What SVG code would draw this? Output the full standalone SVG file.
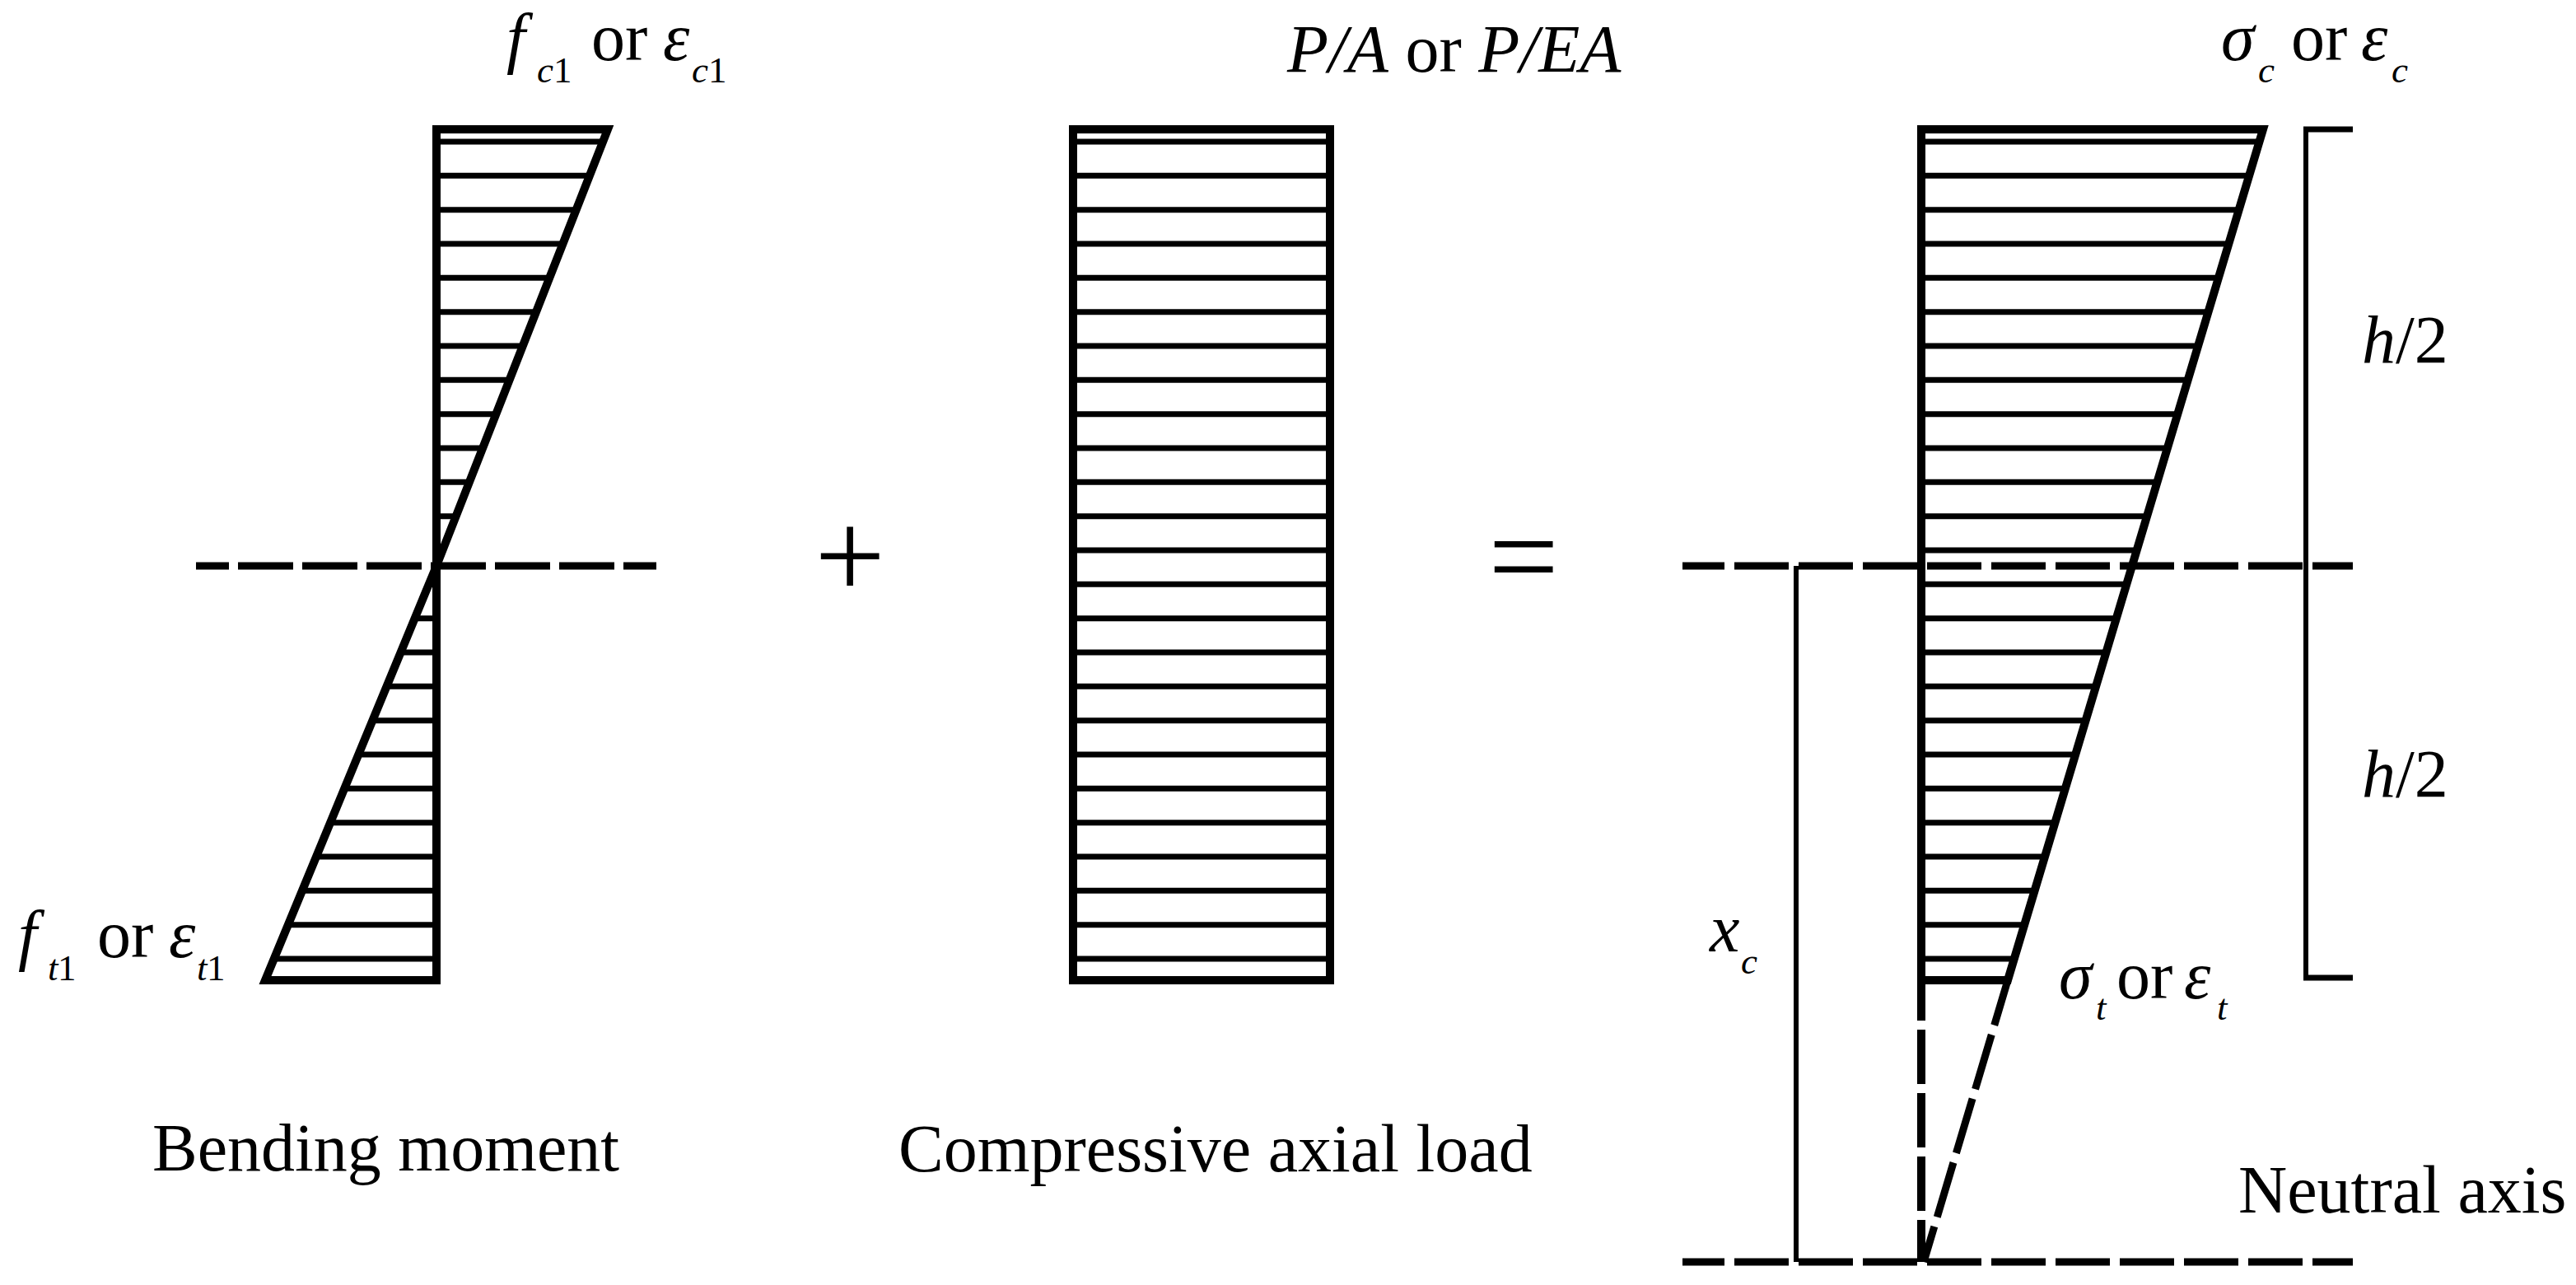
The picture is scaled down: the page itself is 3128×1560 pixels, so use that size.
<svg xmlns="http://www.w3.org/2000/svg" width="3128" height="1560" viewBox="0 0 3128 1560">
<style>
.t{font-family:"Liberation Serif","Times New Roman",serif;font-size:82px;fill:#000}
.i{font-style:italic}
.s{font-size:45px}
.big{font-size:152px}
.o{stroke:#000;stroke-width:10;fill:none;stroke-linejoin:miter}
.h{stroke:#000;stroke-width:7;fill:none}
.dl{stroke:#000;stroke-width:9;fill:none}
.dim{stroke:#000;stroke-width:6;fill:none}
.tick{stroke:#000;stroke-width:7;fill:none}
</style>
<rect width="3128" height="1560" fill="#fff"/>

<g id="bending-diagram">
<path class="h" d="M530 172H732.1M530 213.3H715.9M530 254.7H698.5M530 296H683.5M530 337.3H667.2M530 378.7H651M530 420H634.8M530 461.3H618.6M530 502.7H602.3M530 544H586.1M530 585.3H569.9M530 626.7H553.7M530 668H537.5M520.8 709.3H530M503.7 750.7H530M486.6 792H530M469.5 833.3H530M452.4 874.7H530M435.3 916H530M418.2 957.3H530M401.1 998.7H530M384 1040H530M366.9 1081.3H530M349.8 1122.7H530M332.8 1164H530"/>
<polygon class="o" points="530,157 738,157 530,687 322,1190 530,1190"/>
</g>

<g id="axial-diagram">
<path class="h" d="M1303 172H1615M1303 213.3H1615M1303 254.7H1615M1303 296H1615M1303 337.3H1615M1303 378.7H1615M1303 420H1615M1303 461.3H1615M1303 502.7H1615M1303 544H1615M1303 585.3H1615M1303 626.7H1615M1303 668H1615M1303 709.3H1615M1303 750.7H1615M1303 792H1615M1303 833.3H1615M1303 874.7H1615M1303 916H1615M1303 957.3H1615M1303 998.7H1615M1303 1040H1615M1303 1081.3H1615M1303 1122.7H1615M1303 1164H1615"/>
<rect class="o" x="1303" y="157" width="312" height="1033"/>
</g>

<g id="combined-diagram">
<path class="h" d="M2333 172H2744.1M2333 213.3H2731.7M2333 254.7H2719.3M2333 296H2706.9M2333 337.3H2694.5M2333 378.7H2682.1M2333 420H2669.7M2333 461.3H2657.3M2333 502.7H2644.9M2333 544H2632.5M2333 585.3H2620.1M2333 626.7H2607.7M2333 668H2595.3M2333 709.3H2582.9M2333 750.7H2570.5M2333 792H2558.1M2333 833.3H2545.7M2333 874.7H2533.2M2333 916H2520.8M2333 957.3H2508.4M2333 998.7H2496M2333 1040H2483.6M2333 1081.3H2471.2M2333 1122.7H2458.8M2333 1164H2446.4"/>
<polygon class="o" points="2333,157 2748,157 2438,1190 2333,1190"/>
<line class="o" x1="2333" y1="1190" x2="2333" y2="1532" stroke-width="11" stroke-dasharray="66 11" stroke-dashoffset="17"/>
<line class="dl" x1="2438" y1="1190" x2="2336" y2="1532" stroke-width="8" stroke-dasharray="69 12" stroke-dashoffset="12"/>
</g>

<g id="connectors">
<line class="dl" x1="238" y1="687" x2="797" y2="687" stroke-dasharray="67 11" stroke-dashoffset="27"/>
<line class="dl" x1="2043" y1="687" x2="2857" y2="687" stroke-dasharray="66 12" stroke-dashoffset="15"/>
<line class="dl" x1="2043" y1="1532" x2="2857" y2="1532" stroke-dasharray="66 12" stroke-dashoffset="15"/>
<line class="dim" x1="2800" y1="157" x2="2800" y2="1187"/>
<line class="tick" x1="2797" y1="157" x2="2857" y2="157"/>
<line class="tick" x1="2797" y1="1187" x2="2857" y2="1187"/>
<line class="dim" x1="2181" y1="687" x2="2181" y2="1532"/>
</g>

<g id="labels">
<g id="label-fc1"><text class="t"><tspan class="i" x="615" y="73">f</tspan><tspan class="i s" x="652" y="100">c</tspan><tspan class="s" x="672" y="100">1</tspan><tspan x="718" y="73">or</tspan><tspan class="i" x="805" y="73">ε</tspan><tspan class="i s" x="840" y="100">c</tspan><tspan class="s" x="860" y="100">1</tspan></text></g>
<g id="label-ft1"><text class="t"><tspan class="i" x="22" y="1162">f</tspan><tspan class="i s" x="58" y="1190">t</tspan><tspan class="s" x="70" y="1190">1</tspan><tspan x="118" y="1162">or</tspan><tspan class="i" x="205" y="1162">ε</tspan><tspan class="i s" x="239" y="1190">t</tspan><tspan class="s" x="251" y="1190">1</tspan></text></g>
<g id="label-pa"><text class="t" x="1563" y="87"><tspan class="i">P/A</tspan> or <tspan class="i">P/EA</tspan></text></g>
<g id="label-sc"><text class="t"><tspan class="i" x="2697" y="73">σ</tspan><tspan class="i s" x="2742" y="100">c</tspan><tspan x="2782" y="73">or</tspan><tspan class="i" x="2867" y="73">ε</tspan><tspan class="i s" x="2904" y="100">c</tspan></text></g>
<g id="label-st"><text class="t"><tspan class="i" x="2500" y="1212">σ</tspan><tspan class="i s" x="2545" y="1238">t</tspan><tspan x="2570" y="1212">or</tspan><tspan class="i" x="2652" y="1212">ε</tspan><tspan class="i s" x="2692" y="1238">t</tspan></text></g>
<g id="label-h2-top"><text class="t" x="2868" y="440"><tspan class="i">h</tspan>/2</text></g>
<g id="label-h2-bottom"><text class="t" x="2868" y="967"><tspan class="i">h</tspan>/2</text></g>
<g id="label-xc"><text class="t"><tspan class="i" x="2076" y="1155">x</tspan><tspan class="i s" x="2114" y="1182">c</tspan></text></g>
<g id="label-plus"><text class="t big" x="1032" y="726" text-anchor="middle">+</text></g>
<g id="label-equals"><text class="t big" x="1850" y="727" text-anchor="middle">=</text></g>
<g id="label-bending"><text class="t" x="185" y="1421">Bending moment</text></g>
<g id="label-compressive"><text class="t" x="1091" y="1422">Compressive axial load</text></g>
<g id="label-neutral"><text class="t" x="2718" y="1472">Neutral axis</text></g>
</g>
</svg>
